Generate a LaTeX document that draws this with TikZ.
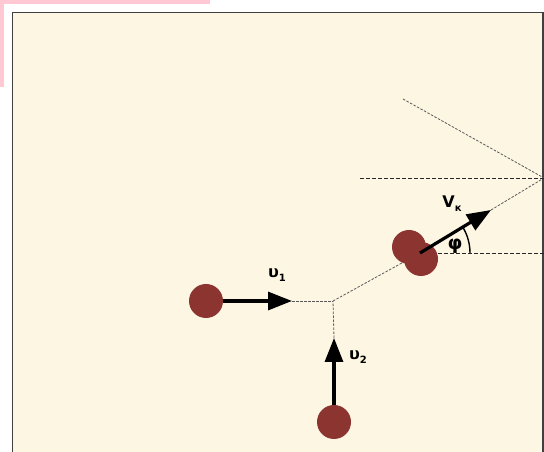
\documentclass[tikz,border=0pt]{standalone}
\usepackage{fontspec}
\usepackage{tikz}
\usetikzlibrary{arrows.meta, calc}
\newfontfamily\lblfont{DejaVu Sans}
\definecolor{paper}{RGB}{253,246,227}
\definecolor{ballred}{RGB}{139,52,48}
\definecolor{pinkedge}{RGB}{255,200,210}
\newcommand{\lbl}[2]{{\lblfont\bfseries #1\raisebox{-4pt}{\fontsize{10}{10}\selectfont #2}}}

\begin{document}
\begin{tikzpicture}[
    x=1pt, y=1pt,
    every node/.style={font=\lblfont\bfseries\fontsize{16}{18}\selectfont},
    ball/.style={circle, fill=ballred, minimum size=34pt, inner sep=0pt},
    vel/.style={-{Triangle[length=24pt,width=18pt]}, line width=3.2pt, black},
    guide/.style={gray!70!black, line width=0.8pt, dash pattern=on 2.5pt off 1.5pt},
    level/.style={black!85, line width=0.9pt, dash pattern=on 4pt off 2pt},
]
    \useasboundingbox (0,0) rectangle (544,452);

    % Frame.
    \fill[pinkedge] (0,452) rectangle (210,448);
    \fill[pinkedge] (0,452) rectangle (4,365);
    \draw[fill=paper, draw=black!75, line width=1.3pt] (12.5,-5) rectangle (543,439.5);

    % Points of the construction.
    \coordinate (meet) at (333,151);
    \coordinate (h1)   at (292,151);
    \coordinate (h2)   at (334,114);
    \coordinate (kc)   at (420,199);
    \coordinate (vk)   at (491,242);
    \coordinate (wall) at (544,274);
    \coordinate (lvlL) at (360,274);
    \coordinate (refl) at (403,353);
    \coordinate (lvlR) at (544,199);

    % Guide lines.
    \draw[guide] (h1) -- (meet);
    \draw[guide] (h2) -- (meet);
    \draw[guide] (meet) -- (kc);
    \draw[guide] (vk) -- (wall);
    \draw[guide] (refl) -- (wall);
    \draw[level] (lvlL) -- (wall);
    \draw[level] (kc) -- (lvlR);

    % Balls.
    \node[ball] (b1) at (206,151) {};
    \node[ball] (b2) at (334,30) {};
    \node[ball] (kA) at (409,205) {};
    \node[ball] (kB) at (421,193) {};

    % Velocities.
    \draw[vel] (b1) -- (h1);
    \draw[vel] (b2) -- (h2);
    \draw[vel] (kc) -- (vk);
    \draw[black, line width=1.4pt] ($(kc)+(50,0)$) arc[start angle=0, end angle=31, radius=50];

    % Labels.
    \node (u1)  at (277,177) {\lbl{υ}{1}};
    \node (u2)  at (358,95)  {\lbl{υ}{2}};
    \node (vkl) at (452,248) {\lbl{V}{к}};
    \node[font=\lblfont\bfseries\fontsize{19}{20}\selectfont] (phi) at (455,206) {φ};
\end{tikzpicture}
\end{document}
